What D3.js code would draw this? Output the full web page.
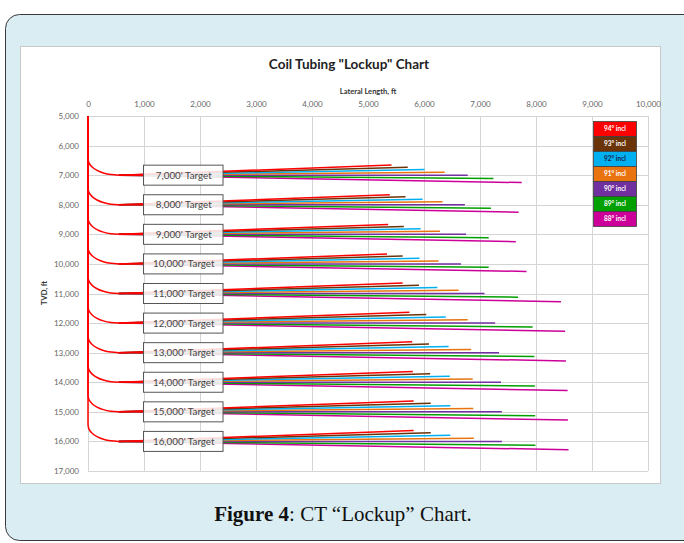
<!DOCTYPE html>
<html>
<head>
<meta charset="utf-8">
<script src="https://cdn.jsdelivr.net/npm/d3@7"></script>
<style>
  body { margin: 0; background: #fff; }
  svg { display: block; font-family: Lato, "Open Sans", sans-serif; }
</style>
</head>
<body>
<div id="chart"></div>
<script>
// target TVDs, ft
const targets = [7000, 8000, 9000, 10000, 11000, 12000, 13000, 14000, 15000, 16000];
const inclinations = [94, 93, 92, 91, 90, 89, 88];

// lockup lateral length (ft) per target
const len94 = [5420, 5390, 5360, 5340, 5620, 5740, 5790, 5800, 5815, 5815];
const len93 = [5710, 5670, 5640, 5620, 5910, 6040, 6090, 6110, 6120, 6120];
const len92 = [6010, 5975, 5940, 5920, 6240, 6390, 6440, 6460, 6470, 6470];
const len91 = [6370, 6330, 6285, 6260, 6620, 6780, 6840, 6870, 6880, 6890];
const len90 = [6780, 6730, 6750, 6660, 7080, 7270, 7340, 7375, 7390, 7390];
const len89 = [7240, 7195, 7155, 7155, 7680, 7940, 7970, 7980, 7985, 7990];
const len88 = [7745, 7690, 7640, 7830, 8445, 8520, 8535, 8565, 8570, 8580];

// build section survey: horizontal offset and height above target (ft)
const buildX = [0, 19, 74, 161, 275, 408, 550];
const buildUp = [550, 408, 275, 161, 74, 19, 0];

const colors = ["#ff0000", "#6b3408", "#00b0f0", "#e8730f", "#7030a0", "#00a000", "#cc0099"];
const xTicks = d3.range(0, 10001, 1000);
const yTicks = d3.range(5000, 17001, 1000);

const lengths = [len94, len93, len92, len91, len90, len89, len88];

const W = 684, H = 543;
const svg = d3.select("#chart").append("svg")
    .attr("width", W)
    .attr("height", H);

// outer light blue frame
svg.append("rect")
    .attr("x", 5.5).attr("y", 14.5)
    .attr("width", 720).attr("height", 526)
    .attr("rx", 14)
    .attr("fill", "#daedf2")
    .attr("stroke", "#3a3a3a")
    .attr("stroke-width", 1);

// white chart panel
svg.append("rect")
    .attr("x", 20.5).attr("y", 46.5)
    .attr("width", 640).attr("height", 437)
    .attr("fill", "#fff")
    .attr("stroke", "#c8c8c8");

const x = d3.scaleLinear().domain([0, 10000]).range([88, 648]);
const y = d3.scaleLinear().domain([5000, 17000]).range([116, 471]);

// gridlines
const grid = svg.append("g").attr("class", "grid");
grid.selectAll("line.v")
    .data(xTicks)
    .enter().append("line")
    .attr("x1", d => Math.round(x(d)) + 0.5).attr("x2", d => Math.round(x(d)) + 0.5)
    .attr("y1", y(5000)).attr("y2", y(17000))
    .attr("stroke", "#d4d4d4");
grid.selectAll("line.h")
    .data(yTicks)
    .enter().append("line")
    .attr("y1", d => Math.round(y(d)) + 0.5).attr("y2", d => Math.round(y(d)) + 0.5)
    .attr("x1", x(0)).attr("x2", x(10000))
    .attr("stroke", "#d4d4d4");

// axes
const xAxis = svg.append("g")
    .attr("transform", `translate(0,${y(5000)})`)
    .call(d3.axisTop(x).tickValues(xTicks).tickSize(0).tickPadding(9).tickFormat(d3.format(",")));
const yAxis = svg.append("g")
    .attr("transform", `translate(${x(0)},0)`)
    .call(d3.axisLeft(y).tickValues(yTicks).tickSize(0).tickPadding(9).tickFormat(d3.format(",")));
[xAxis, yAxis].forEach(a => {
    a.select(".domain").remove();
    a.selectAll("text")
        .attr("font-family", "Lato, sans-serif")
        .attr("font-size", 8)
        .attr("fill", "#666");
});

// title and axis labels
svg.append("text")
    .attr("x", 349).attr("y", 69)
    .attr("text-anchor", "middle")
    .attr("font-size", 13.5)
    .attr("font-weight", "bold")
    .attr("fill", "#222")
    .text('Coil Tubing "Lockup" Chart');

svg.append("text")
    .attr("x", 368).attr("y", 94)
    .attr("text-anchor", "middle")
    .attr("font-size", 7.5)
    .attr("font-weight", "bold")
    .attr("fill", "#333")
    .text("Lateral Length, ft");

svg.append("text")
    .attr("transform", "translate(47,293) rotate(-90)")
    .attr("text-anchor", "middle")
    .attr("font-size", 7.5)
    .attr("font-weight", "bold")
    .attr("fill", "#333")
    .text("TVD, ft");

// well paths: vertical, build, then straight lateral at the given inclination
const line = d3.line()
    .x(d => x(d[0]))
    .y(d => y(d[1]))
    .curve(d3.curveCatmullRom.alpha(0.5));
const straight = d3.line().x(d => x(d[0])).y(d => y(d[1]));

const paths = svg.append("g").attr("fill", "none").attr("stroke-width", 1.5);

// draw 88 first, 94 last so red sits on top of the shared section
for (let k = inclinations.length - 1; k >= 0; k--) {
    const inc = inclinations[k];
    const slope = Math.tan((inc - 90) * Math.PI / 180);
    targets.forEach((t, i) => {
        const L = lengths[k][i];
        const x0 = buildX[buildX.length - 1];
        const endTvd = t - (L - x0) * slope;
        paths.append("path")
            .attr("d", straight([[x0, t], [L, endTvd]]))
            .attr("stroke", colors[k]);
    });
}

// shared vertical + build section (red series on top)
const red = svg.append("g").attr("fill", "none").attr("stroke", colors[0]).attr("stroke-width", 1.5);
targets.forEach(t => {
    red.append("path")
        .attr("d", straight([[0, 5000], [0, t - buildUp[0]]]));
    red.append("path")
        .attr("d", line(buildX.map((bx, j) => [bx, t - buildUp[j]])));
    red.append("path")
        .attr("d", straight([[buildX[buildX.length - 1], t], [1000, t]]));
});

// target labels
const boxes = svg.append("g");
targets.forEach(t => {
    const g = boxes.append("g");
    g.append("rect")
        .attr("x", x(1000) - 0.5)
        .attr("y", y(t) - 10)
        .attr("width", x(2420) - x(1000))
        .attr("height", 20)
        .attr("fill", "#fff")
        .attr("fill-opacity", 0.86)
        .attr("stroke", "#555")
        .attr("stroke-width", 1);
    g.append("text")
        .attr("x", (x(1000) + x(2420)) / 2)
        .attr("y", y(t) + 3.5)
        .attr("text-anchor", "middle")
        .attr("font-size", 9.8)
        .attr("fill", "#444")
        .text(d3.format(",")(t) + "' Target");
});

// legend
const legend = svg.append("g").attr("transform", "translate(593,121)");
inclinations.forEach((inc, k) => {
    legend.append("rect")
        .attr("x", 0.5).attr("y", k * 15 + 0.5)
        .attr("width", 43).attr("height", 15)
        .attr("fill", colors[k])
        .attr("stroke", "#404040")
        .attr("stroke-width", 0.8);
    legend.append("text")
        .attr("x", 22).attr("y", k * 15 + 10)
        .attr("text-anchor", "middle")
        .attr("font-size", 6.5)
        .attr("font-weight", "bold")
        .attr("fill", inc === 92 ? "#1c1c4a" : "#fff")
        .text(inc + "° incl");
});

// caption
const cap = svg.append("text")
    .attr("x", 343).attr("y", 521)
    .attr("text-anchor", "middle")
    .attr("font-family", "'Liberation Serif', serif")
    .attr("font-size", 21)
    .attr("fill", "#111");
cap.append("tspan").attr("font-weight", "bold").text("Figure 4");
cap.append("tspan").text(": CT “Lockup” Chart.");
</script>
</body>
</html>
